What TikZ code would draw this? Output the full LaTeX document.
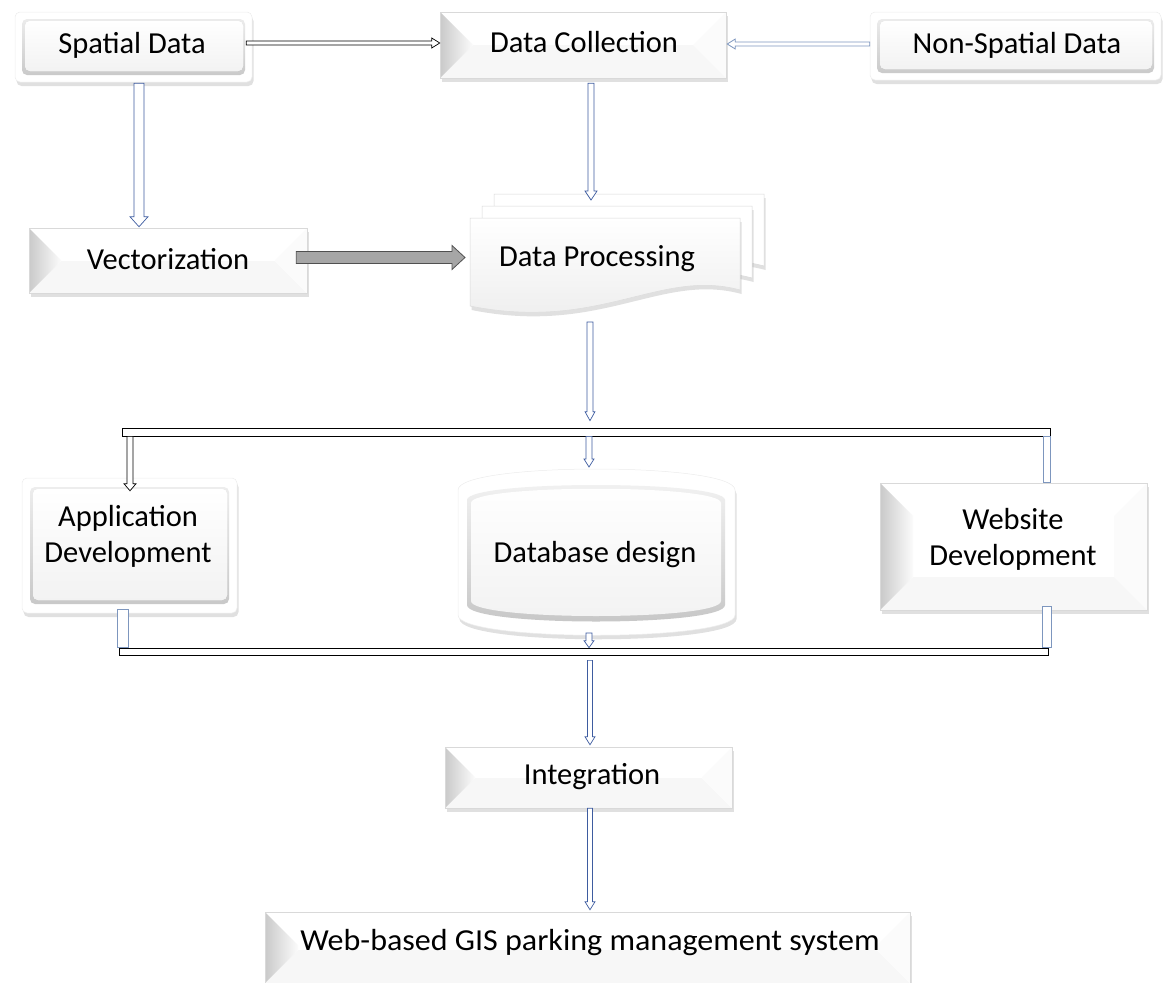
\documentclass[tikz,border=0pt]{standalone}
\usepackage{fontspec}
\setmainfont{Carlito}
\usetikzlibrary{calc,shadows}
\definecolor{arrblue}{RGB}{62,92,160}
\definecolor{lblue}{RGB}{125,150,190}
\definecolor{garr}{RGB}{166,166,166}
\definecolor{garrd}{RGB}{80,80,80}
% vertical (downward) block arrow: [style]{start}{end}{shaft half}{head half}{head length}
\newcommand\vblock[6][]{\draw[#1] let \p1=#2, \p2=#3 in
  ({\x1-#4},{\y1}) -- ({\x1-#4},{\y2+#6}) -- ({\x1-#5},{\y2+#6}) -- ({\x1},{\y2}) --
  ({\x1+#5},{\y2+#6}) -- ({\x1+#4},{\y2+#6}) -- ({\x1+#4},{\y1}) -- cycle;}
% horizontal block arrow: [style]{start}{end}{shaft half}{head half}{signed head length}
\newcommand\hblock[6][]{\draw[#1] let \p1=#2, \p2=#3 in
  ({\x1},{\y1+#4}) -- ({\x2-(#6)},{\y1+#4}) -- ({\x2-(#6)},{\y1+#5}) -- ({\x2},{\y1}) --
  ({\x2-(#6)},{\y1-#5}) -- ({\x2-(#6)},{\y1-#4}) -- ({\x1},{\y1-#4}) -- cycle;}
\newcommand\bevelfaces[1]{%
  \coordinate (bNW) at (path picture bounding box.north west);
  \coordinate (bNE) at (path picture bounding box.north east);
  \coordinate (bSW) at (path picture bounding box.south west);
  \coordinate (bSE) at (path picture bounding box.south east);
  \fill[gray!6] (bSW) -- (bSE) -- ([shift={(-#1pt,#1pt)}]bSE) -- ([shift={(#1pt,#1pt)}]bSW) -- cycle;
  \fill[gray!3] (bNE) -- (bSE) -- ([shift={(-#1pt,#1pt)}]bSE) -- ([shift={(-#1pt,-#1pt)}]bNE) -- cycle;
  \shade[left color=gray!42, right color=gray!3] (bNW) -- ([shift={(#1pt,-#1pt)}]bNW) -- ([shift={(#1pt,#1pt)}]bSW) -- (bSW) -- cycle;
  \draw[gray!45, line width=1pt] (bNE) -- (bSE);
}
\newcommand\buttonface[2]{%
  \fill[top color=gray!12, bottom color=gray!45]
    ([shift={(#1pt,-#2pt)}]path picture bounding box.north west) rectangle
    ([shift={(-#1pt,#2pt)}]path picture bounding box.south east);
  \fill[top color=white, bottom color=gray!10]
    ([shift={(#1pt+3pt,-#2pt-2pt)}]path picture bounding box.north west) rectangle
    ([shift={(-#1pt-2pt,#2pt+4pt)}]path picture bounding box.south east);
}
\newcommand\docpath[2]{({470+#1},{218+#2}) -- ({740+#1},{218+#2}) -- ({740+#1},{290+#2})
  .. controls ({660+#1},{268+#2}) and ({600+#1},{332+#2}) .. ({470+#1},{306+#2}) -- cycle}
\tikzset{
  shad/.style={drop shadow={shadow xshift=1.5pt, shadow yshift=-4pt, opacity=0.3, fill=gray!80}},
  bevel/.style={rectangle, inner sep=0pt, draw=gray!30, line width=0.5pt, fill=white, shad,
    path picture={\bevelfaces{#1}}},
  bevel/.default=33,
  buttonbase/.style={rectangle, inner sep=0pt, rounded corners=5pt, draw=gray!15, line width=0.5pt, fill=white, shad},
  button/.style={buttonbase, path picture={\buttonface{7}{7}}},
  buttonb/.style={buttonbase, path picture={\buttonface{8}{9}}},
  txt/.style={inner sep=0pt, font=\fontsize{30.5}{36}\selectfont, align=center},
  blk/.style={draw=black, fill=white, line width=0.7pt},
  blu/.style={draw=arrblue, fill=white, line width=0.7pt},
  lbl/.style={draw=lblue, fill=white, line width=0.8pt},
  gra/.style={draw=garrd, fill=garr, line width=0.8pt},
  barst/.style={rectangle, inner sep=0pt, draw=black, fill=white, line width=0.7pt},
  docst/.style={draw=gray!30, line width=0.5pt, fill=white, shad},
}
\begin{document}
\begin{tikzpicture}[x=1pt, y=-1pt]
\useasboundingbox (0,0) rectangle (1163,983);
% ---- boxes
\node[button, minimum width=237pt, minimum height=70pt] (sp) at (133.5,47) {};
\node[bevel=33, minimum width=286pt, minimum height=66pt] (dc) at (583,45) {};
\node[button, minimum width=291pt, minimum height=68pt] (ns) at (1015.5,46) {};
\node[bevel=32, minimum width=278pt, minimum height=65pt] (vecbox) at (168,260.5) {};
\node[buttonb, minimum width=215pt, minimum height=135pt] (appbox) at (129.5,545.5) {};
\node[bevel=33, minimum width=267pt, minimum height=127pt] (webbox) at (1013.5,546.5) {};
\node[bevel=30, minimum width=287pt, minimum height=61pt] (integbox) at (588.5,777.5) {};
\node[bevel=33, minimum width=645pt, minimum height=71pt] (wgisbox) at (587.5,947.5) {};
% ---- data processing (stack of documents)
\path[docst] \docpath{24}{-24};
\path[docst] \docpath{12}{-12};
\path[docst, top color=white, bottom color=gray!15] \docpath{0}{0};
\coordinate (dptop) at (591,200);
\coordinate (dpleft) at (465,257);
\coordinate (dpbot) at (590,322);
% ---- database design
\path[draw=gray!15, line width=0.5pt, fill=white, shad]
  (458,490) .. controls (458,462) and (735,462) .. (735,490) -- (735,615)
  .. controls (735,642) and (458,642) .. (458,615) -- cycle;
\path[top color=gray!10, bottom color=gray!45]
  (467,500) .. controls (467,480) and (725,480) .. (725,500) -- (725,605)
  .. controls (725,627) and (467,627) .. (467,605) -- cycle;
\path[top color=white, bottom color=gray!10]
  (471,503) .. controls (471,484) and (721,484) .. (721,503) -- (721,601)
  .. controls (721,621) and (471,621) .. (471,601) -- cycle;
\coordinate (dbtop) at (589,467);
\coordinate (dbbot) at (589,633);
% ---- bars
\node[barst, minimum width=928pt, minimum height=8pt] (bar1) at (586,432) {};
\node[barst, minimum width=929pt, minimum height=7pt] (bar2) at (583.5,651.5) {};
% ---- texts
\node[txt] (sptext) at (132,45) {Spatial Data};
\node[txt] (dctext) at (584,42) {Data Collection};
\node[txt] (nstext) at (1017,45) {Non-Spatial Data};
\node[txt] (vectext) at (168,259) {Vectorization};
\node[txt] (dp) at (597,259) {Data Processing};
\node[txt] (app) at (128,536) {Application\\Development};
\node[txt] (db) at (595,555) {Database design};
\node[txt] (web) at (1013,539) {Website\\Development};
\node[txt] (integ) at (592,777) {Integration};
\node[txt, xscale=1.05] (wgis) at (590,943) {Web-based GIS parking management system};
% ---- connectors
\hblock[blk]{([shift={(-6pt,4pt)}]sp.east)}{(dc.west)}{2}{5}{8}
\hblock[lbl]{([shift={(0pt,2pt)}]ns.west)}{([xshift=1pt]dc.east)}{2}{5}{-8}
\vblock[blu]{([shift={(5.5pt,-1pt)}]sp.south)}{([yshift=1pt]vecbox.north)}{5}{9}{10}
\vblock[blu]{([shift={(8pt,-5pt)}]dc.south)}{(dptop)}{3}{6}{9}
\hblock[gra]{([shift={(-11pt,3pt)}]vecbox.east)}{(dpleft)}{6}{12}{13}
\vblock[blu]{(dpbot)}{([yshift=7pt]bar1.north)}{3}{5}{9}
\vblock[blk]{([xshift=0.5pt]bar1.south -| appbox.north)}{([yshift=-13pt]appbox.north)}{3}{6}{7}
\vblock[blu]{([xshift=3pt]bar1.south)}{(dbtop)}{3}{5}{8}
\draw[lbl] ([xshift=-7pt]bar1.south east) rectangle (bar1.east |- webbox.north);
\draw[lbl] ([shift={(-12pt,4pt)}]appbox.south) rectangle ([xshift=-1pt]appbox.south |- bar2.north);
\draw[lbl] ([xshift=-6pt]bar2.north east) rectangle ([shift={(3pt,4pt)}]bar2.east |- webbox.south);
\vblock[blu]{(dbbot)}{(bar2.north -| dbbot)}{3}{5}{7}
\vblock[blu]{([shift={(1.5pt,-5pt)}]bar2.south -| integbox.north)}{([yshift=2pt]integbox.north)}{2.5}{5}{8}
\vblock[blu]{([xshift=1.5pt]integbox.south)}{([yshift=2pt]wgisbox.north)}{2.5}{5}{8}
\end{tikzpicture}
\end{document}
